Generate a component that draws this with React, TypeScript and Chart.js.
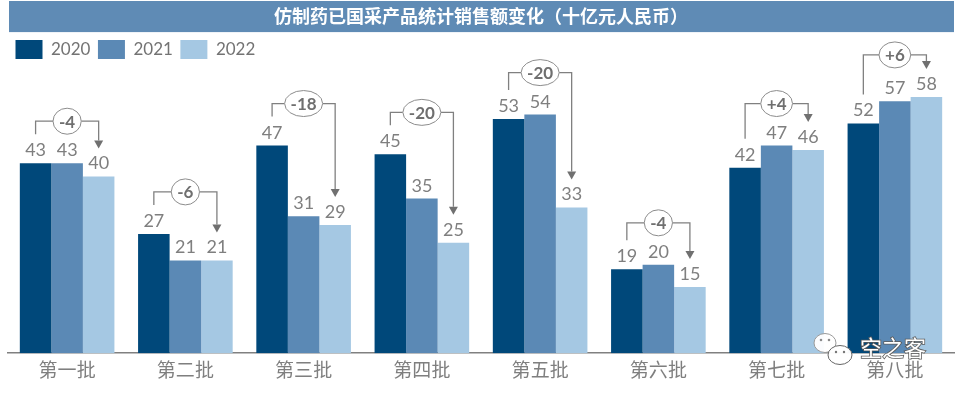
import React, { useEffect, useRef } from "react";
import { Chart, registerables } from "chart.js";

Chart.register(...registerables);

const titleText = "仿制药已国采产品统计销售额变化（十亿元人民币）";
const categories = ["第一批", "第二批", "第三批", "第四批", "第五批", "第六批", "第七批", "第八批"];
const seriesNames = ["2020", "2021", "2022"];
const values2020 = [43, 27, 47, 45, 53, 19, 42, 52];
const values2021 = [43, 21, 31, 35, 54, 20, 47, 57];
const values2022 = [40, 21, 29, 25, 33, 15, 46, 58];
const changeLabels = ["-4", "-6", "-18", "-20", "-20", "-4", "+4", "+6"];
const watermarkText = "空之客";

const colors = ["#00487a", "#5b89b5", "#a5c8e3"];
const FONT = "Lato, 'Noto Sans CJK SC', sans-serif";

const bandPlugin = {
  id: "titleBand",
  beforeDraw(chart: any) {
    const t = chart.titleBlock;
    if (!t) return;
    const ctx = chart.ctx;
    ctx.save();
    ctx.fillStyle = "#5f8bb5";
    ctx.fillRect(t.left + 1, t.top, t.width - 1, t.height - 0.5);
    ctx.restore();
  },
};

const annotPlugin = {
  id: "annot",
  afterDatasetsDraw(chart: any) {
    const ctx = chart.ctx;
    const metas = [0, 1, 2].map((i) => chart.getDatasetMeta(i));
    ctx.save();
    ctx.font = `18px ${FONT}`;
    ctx.fillStyle = "#7f7f7f";
    ctx.textAlign = "center";
    ctx.textBaseline = "alphabetic";
    metas.forEach((meta: any, d: number) => {
      meta.data.forEach((bar: any, i: number) => {
        const v = chart.data.datasets[d].data[i];
        ctx.fillText(String(v), bar.x, bar.y - 7);
      });
    });
    categories.forEach((_, i) => {
      const b0 = metas[0].data[i];
      const b1 = metas[1].data[i];
      const b2 = metas[2].data[i];
      const top = Math.min(b0.y, b1.y, b2.y);
      const by = top - 42;
      const cx = b1.x;
      const leftBottom = b0.y - 29;
      const tip = b2.y - 28;
      ctx.font = `bold 17px ${FONT}`;
      const tw = ctx.measureText(changeLabels[i]).width;
      const rx = Math.max(tw / 2 + 6, 14);
      const ry = 13;
      ctx.strokeStyle = "#808080";
      ctx.lineWidth = 1.3;
      ctx.beginPath();
      ctx.moveTo(b0.x, leftBottom);
      ctx.lineTo(b0.x, by);
      ctx.lineTo(cx - rx, by);
      ctx.moveTo(cx + rx, by);
      ctx.lineTo(b2.x, by);
      ctx.lineTo(b2.x, tip - 8);
      ctx.stroke();
      ctx.fillStyle = "#707070";
      ctx.beginPath();
      ctx.moveTo(b2.x - 4.5, tip - 8);
      ctx.lineTo(b2.x + 4.5, tip - 8);
      ctx.lineTo(b2.x, tip);
      ctx.closePath();
      ctx.fill();
      ctx.beginPath();
      ctx.ellipse(cx, by, rx, ry, 0, 0, Math.PI * 2);
      ctx.fillStyle = "#ffffff";
      ctx.fill();
      ctx.lineWidth = 1;
      ctx.strokeStyle = "#8c8c8c";
      ctx.stroke();
      ctx.fillStyle = "#6f6f6f";
      ctx.textBaseline = "middle";
      ctx.fillText(changeLabels[i], cx, by + 1);
      ctx.textBaseline = "alphabetic";
    });
    ctx.restore();
  },
};

const watermarkPlugin = {
  id: "watermark",
  afterDraw(chart: any) {
    const ctx = chart.ctx;
    ctx.save();
    ctx.lineWidth = 1;
    ctx.strokeStyle = "#9a9a9a";
    ctx.fillStyle = "rgba(255,255,255,0.95)";
    ctx.beginPath();
    ctx.ellipse(825, 343, 11, 9.5, 0, 0, Math.PI * 2);
    ctx.fill();
    ctx.stroke();
    ctx.fillStyle = "#8a8a8a";
    ctx.beginPath();
    ctx.arc(821, 340, 1.3, 0, Math.PI * 2);
    ctx.arc(829, 340, 1.3, 0, Math.PI * 2);
    ctx.fill();
    ctx.strokeStyle = "#666666";
    ctx.fillStyle = "rgba(255,255,255,0.97)";
    ctx.beginPath();
    ctx.ellipse(840, 355, 12, 9.5, 0, 0, Math.PI * 2);
    ctx.fill();
    ctx.stroke();
    ctx.fillStyle = "#777777";
    ctx.beginPath();
    ctx.arc(836, 352, 1.2, 0, Math.PI * 2);
    ctx.arc(844, 352, 1.2, 0, Math.PI * 2);
    ctx.fill();
    ctx.font = `22px 'Noto Sans CJK SC', sans-serif`;
    ctx.textAlign = "center";
    ctx.textBaseline = "middle";
    ctx.lineWidth = 1.6;
    ctx.strokeStyle = "#5a5a5a";
    ctx.strokeText(watermarkText, 893, 348);
    ctx.fillStyle = "#ffffff";
    ctx.fillText(watermarkText, 893, 348);
    ctx.restore();
  },
};

export default function App() {
  const ref = useRef<HTMLCanvasElement | null>(null);
  useEffect(() => {
    if (!ref.current) return;
    const chart = new Chart(ref.current, {
      type: "bar",
      data: {
        labels: categories,
        datasets: [values2020, values2021, values2022].map((vals, i) => ({
          label: seriesNames[i],
          data: vals,
          backgroundColor: colors[i],
          borderWidth: 0,
          categoryPercentage: 0.8,
          barPercentage: 1.0,
        })),
      },
      options: {
        animation: false,
        responsive: false,
        maintainAspectRatio: false,
        devicePixelRatio: 1,
        layout: { padding: { top: 1, left: 8, right: 8, bottom: 6 } },
        plugins: {
          title: {
            display: true,
            text: titleText,
            color: "#ffffff",
            font: { family: FONT, size: 18, weight: "bold", lineHeight: 1.2 },
            padding: { top: 5, bottom: 5 },
          },
          legend: {
            display: true,
            position: "top",
            align: "start",
            labels: {
              boxWidth: 27,
              boxHeight: 19,
              padding: 7.5,
              color: "#737373",
              font: { family: FONT, size: 17 },
            },
          },
          tooltip: { enabled: false },
        },
        scales: {
          x: {
            grid: { display: false, drawTicks: false, tickLength: 0 },
            border: { display: true, color: "#808080", width: 1.5 },
            ticks: { color: "#7f7f7f", padding: 6, font: { family: FONT, size: 19, lineHeight: 1.2 } },
          },
          y: {
            display: false,
            min: 0,
            max: 64.3,
          },
        },
      },
      plugins: [bandPlugin, annotPlugin, watermarkPlugin],
    });
    return () => chart.destroy();
  }, []);
  return (
    <div style={{ position: "fixed", left: 0, top: 0, width: 962, height: 394, background: "#ffffff" }}>
      <canvas ref={ref} width={962} height={394} style={{ display: "block" }} />
    </div>
  );
}
